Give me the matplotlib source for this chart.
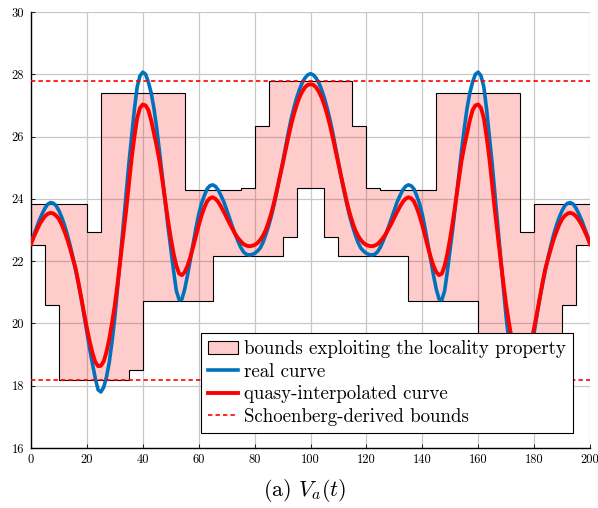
import numpy as np
import matplotlib
matplotlib.use("Agg")
import matplotlib.pyplot as plt
from matplotlib.patches import Patch
from matplotlib.lines import Line2D

plt.rcParams['font.family'] = ['cmr10', 'DejaVu Serif']
plt.rcParams['mathtext.fontset'] = 'cm'

# sample times of the two curves
t = np.arange(0, 201, 1)

real_curve = [
    22.55, 22.83, 23.08, 23.32, 23.52, 23.70, 23.83, 23.88, 23.86, 23.78,
    23.62, 23.41, 23.15, 22.85, 22.50, 22.12, 21.70, 21.26, 20.80, 20.26,
    19.70, 19.18, 18.70, 18.24, 17.87, 17.80, 17.95, 18.28, 18.75, 19.42,
    20.20, 21.15, 22.15, 23.15, 24.15, 25.12, 26.00, 26.88, 27.60, 27.95,
    28.07, 28.00, 27.75, 27.40, 26.90, 26.25, 25.50, 24.70, 23.90, 23.12,
    22.40, 21.70, 21.05, 20.76, 20.78, 21.10, 21.55, 22.05, 22.55, 23.05,
    23.50, 23.85, 24.10, 24.32, 24.42, 24.45, 24.40, 24.28, 24.10, 23.90,
    23.65, 23.38, 23.12, 22.88, 22.65, 22.45, 22.30, 22.22, 22.20, 22.21,
    22.25, 22.32, 22.42, 22.60, 22.85, 23.13, 23.45, 23.83, 24.25, 24.70,
    25.15, 25.63, 26.10, 26.53, 26.90, 27.23, 27.50, 27.72, 27.88, 27.98,
    28.02,
    27.98, 27.88, 27.72, 27.50, 27.23, 26.90, 26.53, 26.10, 25.63, 25.15,
    24.70, 24.25, 23.83, 23.45, 23.13, 22.85, 22.60, 22.42, 22.32, 22.25,
    22.21, 22.20, 22.22, 22.30, 22.45, 22.65, 22.88, 23.12, 23.38, 23.65,
    23.90, 24.10, 24.28, 24.40, 24.45, 24.42, 24.32, 24.10, 23.85, 23.50,
    23.05, 22.55, 22.05, 21.55, 21.10, 20.78, 20.76, 21.05, 21.70, 22.40,
    23.12, 23.90, 24.70, 25.50, 26.25, 26.90, 27.40, 27.75, 28.00, 28.07,
    27.95, 27.60, 26.88, 26.00, 25.12, 24.15, 23.15, 22.15, 21.15, 20.20,
    19.42, 18.75, 18.28, 17.95, 17.80, 17.87, 18.24, 18.70, 19.18, 19.70,
    20.26, 20.80, 21.26, 21.70, 22.12, 22.50, 22.85, 23.15, 23.41, 23.62,
    23.78, 23.86, 23.88, 23.83, 23.70, 23.52, 23.32, 23.08, 22.83, 22.55,
]

quasi_curve = [
    22.55, 22.78, 22.98, 23.17, 23.32, 23.44, 23.52, 23.55, 23.53, 23.46,
    23.35, 23.17, 22.95, 22.70, 22.40, 22.08, 21.75, 21.30, 20.80, 20.32,
    19.85, 19.42, 19.05, 18.76, 18.63, 18.64, 18.78, 19.08, 19.50, 20.02,
    20.60, 21.30, 22.05, 22.82, 23.60, 24.46, 25.30, 26.00, 26.60, 26.92,
    27.03, 27.00, 26.85, 26.52, 26.10, 25.68, 25.20, 24.60, 23.95, 23.32,
    22.75, 22.25, 21.85, 21.60, 21.55, 21.65, 21.85, 22.13, 22.45, 22.80,
    23.15, 23.46, 23.72, 23.92, 24.02, 24.05, 24.00, 23.90, 23.75, 23.58,
    23.40, 23.22, 23.05, 22.88, 22.75, 22.64, 22.55, 22.50, 22.48, 22.49,
    22.52, 22.58, 22.68, 22.82, 23.00, 23.25, 23.55, 23.90, 24.30, 24.70,
    25.10, 25.53, 25.95, 26.35, 26.70, 27.00, 27.25, 27.44, 27.58, 27.66,
    27.68,
    27.66, 27.58, 27.44, 27.25, 27.00, 26.70, 26.35, 25.95, 25.53, 25.10,
    24.70, 24.30, 23.90, 23.55, 23.25, 23.00, 22.82, 22.68, 22.58, 22.52,
    22.49, 22.48, 22.50, 22.55, 22.64, 22.75, 22.88, 23.05, 23.22, 23.40,
    23.58, 23.75, 23.90, 24.00, 24.05, 24.02, 23.92, 23.72, 23.46, 23.15,
    22.80, 22.45, 22.13, 21.85, 21.65, 21.55, 21.60, 21.85, 22.25, 22.75,
    23.32, 23.95, 24.60, 25.20, 25.68, 26.10, 26.52, 26.85, 27.00, 27.03,
    26.92, 26.60, 26.00, 25.30, 24.46, 23.60, 22.82, 22.05, 21.30, 20.60,
    20.02, 19.50, 19.08, 18.78, 18.64, 18.63, 18.76, 19.05, 19.42, 19.85,
    20.32, 20.80, 21.30, 21.75, 22.08, 22.40, 22.70, 22.95, 23.17, 23.35,
    23.46, 23.53, 23.55, 23.52, 23.44, 23.32, 23.17, 22.98, 22.78, 22.55,
]

# piecewise constant bounds on intervals of width 5
edges = np.arange(0, 201, 5)
upper_bound = [
    23.85, 23.85, 23.85, 23.85, 22.95, 27.40, 27.40, 27.40, 27.40, 27.40,
    27.40, 24.27, 24.27, 24.27, 24.27, 24.36, 26.35, 27.80, 27.80, 27.80,
    27.80, 27.80, 27.80, 26.35, 24.36, 24.27, 24.27, 24.27, 24.27, 27.40,
    27.40, 27.40, 27.40, 27.40, 27.40, 22.95, 23.85, 23.85, 23.85, 23.85,
]
lower_bound = [
    22.53, 20.58, 18.18, 18.18, 18.18, 18.18, 18.18, 18.50, 20.72, 20.72,
    20.72, 20.72, 20.72, 22.15, 22.17, 22.17, 22.17, 22.17, 22.76, 24.36,
    24.36, 22.76, 22.17, 22.17, 22.17, 22.17, 22.15, 20.72, 20.72, 20.72,
    20.72, 20.72, 18.50, 18.18, 18.18, 18.18, 18.18, 18.18, 20.58, 22.53,
]

schoenberg_hi = 27.8
schoenberg_lo = 18.18

blue = (0.0, 0.447, 0.741)
dash = (0, (2.6, 1.9))

fig = plt.figure(figsize=(5.98, 5.08), dpi=100)
ax = fig.add_axes([31 / 598, 60 / 508, 559 / 598, 436 / 508])

ax.fill_between(edges, lower_bound + [lower_bound[-1]], upper_bound + [upper_bound[-1]],
                step='post', color='red', alpha=0.2, lw=0, zorder=1)
ax.stairs(upper_bound, edges, baseline=None, color='black', lw=0.8, zorder=2)
ax.stairs(lower_bound, edges, baseline=None, color='black', lw=0.8, zorder=2)

ax.plot(t, real_curve, color=blue, lw=2.6, zorder=3, solid_joinstyle='round')
ax.plot(t, quasi_curve, color='red', lw=2.8, zorder=3.1, solid_joinstyle='round')

ax.axhline(schoenberg_hi, color='red', lw=1.2, ls=dash, zorder=3.2)
ax.axhline(schoenberg_lo, color='red', lw=1.2, ls=dash, zorder=3.2)

ax.set_xlim(0, 200)
ax.set_ylim(16, 30)
ax.set_xticks(range(0, 201, 20))
ax.set_yticks(range(16, 31, 2))
ax.set_axisbelow(True)
ax.grid(color='#c8c8c8', lw=0.9)
for s in ['top', 'right']:
    ax.spines[s].set_visible(False)
for s in ['left', 'bottom']:
    ax.spines[s].set_linewidth(1.0)
ax.tick_params(direction='in', length=3, width=0.6, labelsize=9)
ax.tick_params(axis='y', pad=5)
ax.tick_params(axis='x', pad=4)

handles = [
    Patch(facecolor=(1, 0.8, 0.8), edgecolor='black', lw=0.8,
          label='bounds exploiting the locality property'),
    Line2D([], [], color=blue, lw=2.6, label='real curve'),
    Line2D([], [], color='red', lw=2.8, label='quasy-interpolated curve'),
    Line2D([], [], color='red', lw=1.2, ls=dash, label='Schoenberg-derived bounds'),
]
leg = ax.legend(handles=handles, loc='lower right', bbox_to_anchor=(0.9696, 0.0344),
                borderaxespad=0, fontsize=13.6, fancybox=False, edgecolor='black',
                framealpha=1, handlelength=1.6, handletextpad=0.3,
                labelspacing=0.24, borderpad=0.38)
leg.get_frame().set_linewidth(0.8)
leg.set_zorder(5)

fig.text(305 / 598, 1 - 490.7 / 508, r'(a) $V_a(t)$', ha='center', va='center', fontsize=16)

fig.savefig('out.png', dpi=100)
